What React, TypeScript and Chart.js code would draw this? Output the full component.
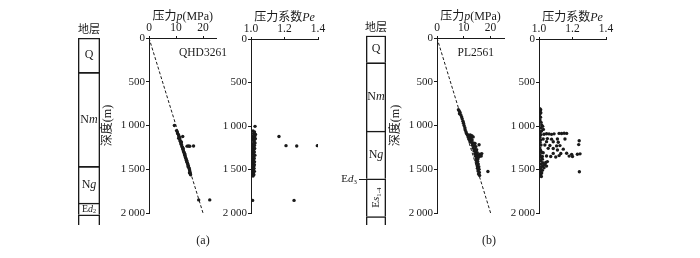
import React, { useEffect, useRef } from 'react';
import { Chart, registerables } from 'chart.js';
Chart.register(...registerables);

const INK = '#1a1a1a';
const SERIF = '"Liberation Serif", "Noto Sans CJK SC", serif';

// ---------------- data ----------------
const depthTicks = [0, 500, 1000, 1500, 2000];
const pressureTicks = [0, 10, 20];
const peTicks = [1.0, 1.2, 1.4];
const hydroPressure = [0, 20];
const hydroDepth = [0, 2000];

const wellA = 'QHD3261';
const wellB = 'PL2561';
const panelA = '(a)';
const panelB = '(b)';

const layersA = ['Q', 'Nm', 'Ng', 'Ed2', ''];
const layerTopA = [0, 393, 1467, 1886, 2020];
const layerBaseA = [393, 1467, 1886, 2020, 2137];

const layersB = ['Q', 'Nm', 'Ng', 'Es1-4', ''];
const layerTopB = [-26, 282, 1063, 1609, 2040];
const layerBaseB = [282, 1063, 1609, 2040, 2137];
const markerBLabel = 'Ed3';
const markerBDepth = 1609;

// [pressure MPa, depth m]
const pressureA: [number, number][] = [
  [9.4, 1000], [10.2, 1058], [10.5, 1075], [10.6, 1092], [10.9, 1104], [11.0, 1118], [11.2, 1131],
  [11.0, 1146], [11.4, 1152], [11.5, 1170], [11.6, 1184], [11.9, 1196], [11.8, 1210], [12.1, 1222],
  [12.2, 1241], [12.4, 1252], [12.5, 1268], [12.7, 1281], [12.8, 1297], [13.0, 1309], [13.1, 1322],
  [13.2, 1338], [13.4, 1349], [13.5, 1366], [13.7, 1378], [13.8, 1394], [14.0, 1406], [14.1, 1421],
  [14.3, 1434], [14.4, 1449], [14.6, 1462], [14.7, 1478], [14.9, 1490], [15.0, 1507], [15.1, 1520],
  [15.2, 1536], [15.3, 1551], [15.4, 1562], [11.3, 1138], [12.0, 1188], [12.6, 1259], [13.3, 1327],
  [13.9, 1401], [14.5, 1468], [15.0, 1541], [12.5, 1125], [14.1, 1236], [14.6, 1234], [15.1, 1237],
  [16.5, 1235], [18.4, 1850], [22.5, 1850],
];

// [pressure coefficient, depth m]
const peA: [number, number][] = [
  [1.024, 1004], [1.012, 1058], [1.021, 1069], [1.016, 1086], [1.027, 1097], [1.008, 1113],
  [1.022, 1121], [1.014, 1137], [1.026, 1146], [1.011, 1162], [1.019, 1170], [1.017, 1187],
  [1.024, 1196], [1.009, 1212], [1.021, 1224], [1.013, 1233], [1.012, 1251], [1.022, 1258],
  [1.016, 1274], [1.008, 1283], [1.02, 1299], [1.014, 1311], [1.011, 1320], [1.023, 1337],
  [1.015, 1346], [1.009, 1362], [1.019, 1371], [1.016, 1387], [1.01, 1396], [1.021, 1412],
  [1.013, 1420], [1.008, 1437], [1.02, 1446], [1.016, 1462], [1.011, 1471], [1.018, 1487],
  [1.014, 1496], [1.009, 1512], [1.02, 1521], [1.015, 1537], [1.01, 1546], [1.017, 1561],
  [1.012, 1576], [1.167, 1120], [1.209, 1226], [1.273, 1230], [1.396, 1226], [1.257, 1855],
  [1.01, 1855],
];

const pressureB: [number, number][] = [
  [8.0, 820], [8.3, 835], [8.6, 850], [8.4, 866], [8.9, 880], [9.2, 902], [9.4, 924], [9.7, 951],
  [9.9, 974], [10.1, 1000], [10.4, 1026], [10.5, 1049], [10.8, 1071], [11.0, 1090], [11.3, 1105],
  [11.8, 1110], [12.4, 1109], [13.0, 1116], [11.6, 1130], [12.2, 1134], [12.8, 1141], [13.5, 1130],
  [11.9, 1155], [12.5, 1161], [13.1, 1166], [12.3, 1185], [12.9, 1195], [13.6, 1199], [14.2, 1206],
  [15.7, 1220], [13.2, 1226], [13.9, 1235], [14.5, 1241], [13.5, 1259], [14.1, 1270], [14.8, 1276],
  [13.8, 1290], [14.4, 1301], [15.0, 1311], [14.1, 1324], [14.7, 1331], [15.4, 1336], [16.0, 1329],
  [16.7, 1321], [14.4, 1350], [15.1, 1356], [15.8, 1354], [16.5, 1349], [14.7, 1376], [15.3, 1381],
  [14.6, 1401], [15.2, 1411], [14.8, 1429], [15.4, 1441], [15.0, 1459], [15.6, 1471], [15.1, 1489],
  [15.7, 1501], [15.3, 1519], [15.8, 1536], [15.5, 1554], [15.9, 1570], [19.0, 1526],
];

const peB: [number, number][] = [
  [1.005, 800], [1.01, 814], [1.006, 831], [1.011, 849], [1.004, 868], [1.009, 899], [1.006, 932],
  [1.012, 958], [1.016, 988], [1.022, 1004], [1.01, 1021], [1.026, 1039], [1.015, 1058],
  [1.006, 1076], [1.011, 1101], [1.005, 1129], [1.01, 1161], [1.006, 1188], [1.012, 1219],
  [1.005, 1252], [1.009, 1279], [1.015, 1301], [1.006, 1331], [1.011, 1359], [1.02, 1381],
  [1.01, 1399], [1.022, 1421], [1.011, 1438], [1.026, 1454], [1.015, 1469], [1.03, 1481],
  [1.01, 1494], [1.02, 1509], [1.006, 1524], [1.016, 1541], [1.01, 1556], [1.005, 1569],
  [1.014, 1581], [1.04, 1419], [1.05, 1409], [1.035, 1441], [1.045, 1461],
  [1.03, 1095], [1.045, 1089], [1.06, 1091], [1.075, 1096], [1.09, 1090], [1.12, 1085],
  [1.135, 1086], [1.15, 1084], [1.165, 1085],
  [1.025, 1150], [1.05, 1145], [1.075, 1151], [1.11, 1149], [1.155, 1150],
  [1.045, 1180], [1.085, 1181], [1.115, 1186], [1.24, 1170],
  [1.035, 1218], [1.065, 1224], [1.105, 1229], [1.125, 1225], [1.237, 1214],
  [1.055, 1257], [1.085, 1258], [1.145, 1266], [1.11, 1276],
  [1.025, 1307], [1.085, 1315], [1.13, 1316], [1.165, 1314], [1.195, 1326], [1.229, 1325],
  [1.245, 1320],
  [1.02, 1350], [1.045, 1345], [1.07, 1351], [1.1, 1356], [1.12, 1340], [1.18, 1346], [1.2, 1350],
  [1.241, 1525],
];

// ---------------- rich text helpers ----------------
type Part = { t: string; i?: boolean; s?: boolean };
const RICH: Record<string, Part[]> = {
  Nm: [{ t: 'N' }, { t: 'm', i: true }],
  Ng: [{ t: 'N' }, { t: 'g', i: true }],
  Ed2: [{ t: 'E' }, { t: 'd', i: true }, { t: '2', s: true }],
  Ed3: [{ t: 'E' }, { t: 'd', i: true }, { t: '3', s: true }],
  'Es1-4': [{ t: 'E' }, { t: 's', i: true }, { t: '1-4', s: true }],
  pTitle: [{ t: '压力' }, { t: 'p', i: true }, { t: '(MPa)' }],
  peTitle: [{ t: '压力系数' }, { t: 'Pe', i: true }],
  depthTitle: [{ t: '深度' }, { t: '(m)' }],
};
const rich = (s: string): Part[] => RICH[s] ?? [{ t: s }];

function fontFor(p: Part, size: number) {
  const sz = p.s ? size * 0.62 : size;
  return `${p.i ? 'italic ' : ''}${sz}px ${SERIF}`;
}

function drawRich(
  ctx: CanvasRenderingContext2D,
  parts: Part[],
  x: number,
  y: number,
  size: number,
  align: 'left' | 'center' | 'right' = 'center',
  rot = 0,
) {
  ctx.save();
  ctx.translate(x, y);
  if (rot) ctx.rotate(rot);
  ctx.textBaseline = 'middle';
  ctx.textAlign = 'left';
  ctx.fillStyle = INK;
  let w = 0;
  for (const p of parts) {
    ctx.font = fontFor(p, size);
    w += ctx.measureText(p.t).width;
  }
  let cx = align === 'center' ? -w / 2 : align === 'right' ? -w : 0;
  for (const p of parts) {
    ctx.font = fontFor(p, size);
    ctx.fillText(p.t, cx, p.s ? size * 0.28 : 0);
    cx += ctx.measureText(p.t).width;
  }
  ctx.restore();
}

// ---------------- chart builders ----------------
const CW = 700;
const CH = 258;
const YW = 40;
const XH = 20;

type Area = { l: number; t: number; r: number; b: number };

const fmtDepth = (v: number) =>
  v >= 1000 ? `${Math.floor(v / 1000)}\u2009${String(v % 1000).padStart(3, '0')}` : String(v);

function scatterConfig(o: {
  area: Area;
  xMin: number;
  xMax: number;
  xTicks: number[];
  xFmt: (v: number) => string;
  pts: [number, number][];
  hydro: boolean;
  title: string;
  well?: string;
  wellDx?: number;
  panel?: string;
  panelDx?: number;
}) {
  const datasets: any[] = [
    {
      type: 'scatter',
      data: o.pts.map(([x, y]) => ({ x, y })),
      pointRadius: 1.7,
      pointBackgroundColor: INK,
      pointBorderWidth: 0,
      showLine: false,
    },
  ];
  if (o.hydro) {
    datasets.push({
      type: 'line',
      data: hydroPressure.map((x, i) => ({ x, y: hydroDepth[i] })),
      borderColor: INK,
      borderWidth: 1,
      borderDash: [3, 2],
      pointRadius: 0,
      fill: false,
      tension: 0,
    });
  }
  const textPlugin = {
    id: 'txt',
    afterDraw(chart: any) {
      const ctx = chart.ctx as CanvasRenderingContext2D;
      const a = chart.chartArea;
      drawRich(ctx, rich(o.title), (a.left + a.right) / 2, a.top - 21, 12);
      if (o.well) drawRich(ctx, rich(o.well), a.left + (o.wellDx ?? 30), a.top + 14.5, 11.5, 'left');
      if (o.hydro) drawRich(ctx, rich('depthTitle'), a.left - 41, (a.top + a.bottom) / 2, 12, 'center', -Math.PI / 2);
      if (o.panel) drawRich(ctx, rich(o.panel), a.left + (o.panelDx ?? 53), a.bottom + 28, 12);
    },
  };
  const tickFont = { family: SERIF, size: 11 };
  return {
    type: 'scatter',
    data: { datasets },
    plugins: [textPlugin],
    options: {
      animation: false,
      responsive: false,
      events: [],
      layout: {
        padding: { left: o.area.l - YW, top: o.area.t - XH, right: CW - o.area.r, bottom: CH - o.area.b },
      },
      plugins: { legend: { display: false }, tooltip: { enabled: false } },
      scales: {
        x: {
          type: 'linear',
          position: 'top',
          min: o.xMin,
          max: o.xMax,
          afterBuildTicks: (s: any) => {
            s.ticks = o.xTicks.map((v) => ({ value: v }));
          },
          afterFit: (s: any) => {
            s.height = XH;
          },
          ticks: {
            font: { family: SERIF, size: 11.5 },
            color: INK,
            padding: 1,
            maxRotation: 0,
            autoSkip: false,
            callback: (v: any) => o.xFmt(Number(v)),
          },
          grid: { drawOnChartArea: false, tickLength: 2, color: INK },
          border: { color: INK, width: 1 },
        },
        y: {
          type: 'linear',
          reverse: true,
          min: 0,
          max: 2000,
          afterBuildTicks: (s: any) => {
            s.ticks = depthTicks.map((v) => ({ value: v }));
          },
          afterFit: (s: any) => {
            s.width = YW;
          },
          ticks: {
            font: tickFont,
            color: INK,
            padding: 1,
            autoSkip: false,
            callback: (v: any) => fmtDepth(Number(v)),
          },
          grid: { drawOnChartArea: false, tickLength: 3, color: INK },
          border: { color: INK, width: 1 },
        },
      },
    },
  };
}

function columnConfig(o: {
  area: Area;
  names: string[];
  tops: number[];
  bases: number[];
  yMin: number;
  yMax: number;
  marker?: { label: string; depth: number };
}) {
  const datasets = o.names.map((n, i) => ({
    label: n,
    data: [[o.tops[i], o.bases[i]]],
    backgroundColor: 'rgba(255,255,255,0)',
    borderColor: INK,
    borderWidth: { top: 1, left: 1, right: 1, bottom: 0 },
    borderSkipped: false,
    barPercentage: 1,
    categoryPercentage: 1,
    grouped: false,
  }));
  const labelPlugin = {
    id: 'colLabels',
    afterDraw(chart: any) {
      const ctx = chart.ctx as CanvasRenderingContext2D;
      const a = chart.chartArea;
      drawRich(ctx, rich('地层'), (a.left + a.right) / 2, a.top - 8, 11);
      o.names.forEach((n, i) => {
        if (!n) return;
        const el = chart.getDatasetMeta(i).data[0];
        const cy = (el.y + el.base) / 2;
        const h = Math.abs(el.base - el.y);
        if (n === 'Es1-4') drawRich(ctx, rich(n), el.x, cy, 11, 'center', -Math.PI / 2);
        else drawRich(ctx, rich(n), el.x, cy, h < 20 ? 10 : 12);
      });
      if (o.marker) {
        const y = Math.round(chart.scales.y.getPixelForValue(o.marker.depth)) + 0.5;
        ctx.save();
        ctx.strokeStyle = INK;
        ctx.lineWidth = 1;
        ctx.beginPath();
        ctx.moveTo(a.left - 7, y);
        ctx.lineTo(a.left, y);
        ctx.stroke();
        ctx.restore();
        drawRich(ctx, rich(o.marker.label), a.left - 9, y, 11, 'right');
      }
    },
  };
  return {
    type: 'bar',
    data: { labels: ['col'], datasets },
    plugins: [labelPlugin],
    options: {
      animation: false,
      responsive: false,
      events: [],
      layout: { padding: { left: o.area.l, top: o.area.t, right: CW - o.area.r, bottom: CH - o.area.b } },
      plugins: { legend: { display: false }, tooltip: { enabled: false } },
      scales: {
        x: { display: false },
        y: { display: false, reverse: true, min: o.yMin, max: o.yMax },
      },
    },
  };
}

export default function App() {
  const refs = useRef<(HTMLCanvasElement | null)[]>([]);
  useEffect(() => {
    document.body.style.margin = '0';
    const cfgs: any[] = [
      columnConfig({ area: { l: 78, t: 38, r: 100, b: 225 }, names: layersA, tops: layerTopA, bases: layerBaseA, yMin: 0, yMax: 2137 }),
      scatterConfig({
        area: { l: 149, t: 38, r: 216.5, b: 213 },
        xMin: 0, xMax: 25, xTicks: pressureTicks, xFmt: (v) => String(v),
        pts: pressureA, hydro: true, title: 'pTitle', well: wellA, wellDx: 30, panel: panelA, panelDx: 54,
      }),
      scatterConfig({
        area: { l: 251, t: 39, r: 318, b: 213 },
        xMin: 1.0, xMax: 1.4, xTicks: peTicks, xFmt: (v) => v.toFixed(1),
        pts: peA, hydro: false, title: 'peTitle',
      }),
      columnConfig({
        area: { l: 366, t: 35.7, r: 386, b: 225 }, names: layersB, tops: layerTopB, bases: layerBaseB,
        yMin: -26, yMax: 2137, marker: { label: markerBLabel, depth: markerBDepth },
      }),
      scatterConfig({
        area: { l: 437, t: 38, r: 504, b: 213 },
        xMin: 0, xMax: 25, xTicks: pressureTicks, xFmt: (v) => String(v),
        pts: pressureB, hydro: true, title: 'pTitle', well: wellB, wellDx: 20.5, panel: panelB, panelDx: 52,
      }),
      scatterConfig({
        area: { l: 539, t: 39, r: 606, b: 213 },
        xMin: 1.0, xMax: 1.4, xTicks: peTicks, xFmt: (v) => v.toFixed(1),
        pts: peB, hydro: false, title: 'peTitle',
      }),
    ];
    const charts = cfgs.map((c, i) => new Chart(refs.current[i] as HTMLCanvasElement, c));
    return () => charts.forEach((c) => c.destroy());
  }, []);

  return (
    <div style={{ position: 'fixed', left: 0, top: 0, width: CW, height: CH, background: '#fff', overflow: 'hidden' }}>
      {[0, 1, 2, 3, 4, 5].map((i) => (
        <canvas
          key={i}
          ref={(el) => {
            refs.current[i] = el;
          }}
          width={CW}
          height={CH}
          style={{ position: 'absolute', left: 0, top: 0, width: CW, height: CH }}
        />
      ))}
    </div>
  );
}
